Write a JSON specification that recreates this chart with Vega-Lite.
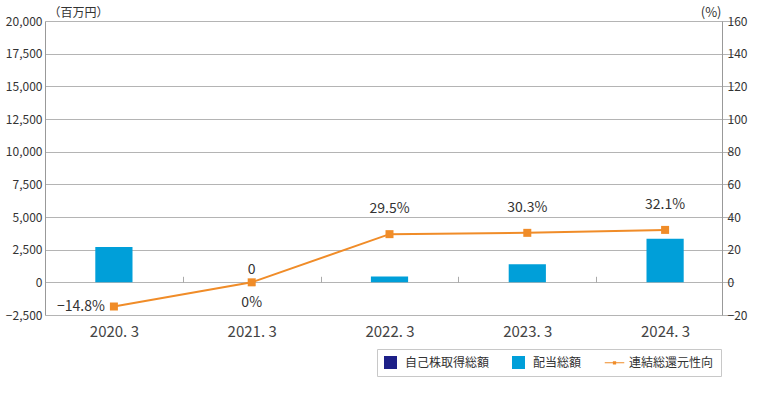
{
  "$schema": "https://vega.github.io/schema/vega-lite/v6.json",
  "width": 677,
  "height": 294,
  "autosize": {"type": "none"},
  "padding": {"left": 45, "top": 21, "right": 38, "bottom": 79},
  "config": {"view": {"stroke": null}, "font": "Noto Sans CJK JP"},
  "data": {
    "values": [
      {"year": "2020. 3", "series": "配当総額", "value": 2700},
      {"year": "2021. 3", "series": "配当総額", "value": 0},
      {"year": "2022. 3", "series": "配当総額", "value": 450},
      {"year": "2023. 3", "series": "配当総額", "value": 1380},
      {"year": "2024. 3", "series": "配当総額", "value": 3330},
      {"year": "2020. 3", "series": "連結総還元性向", "value": -14.8},
      {"year": "2021. 3", "series": "連結総還元性向", "value": 0},
      {"year": "2022. 3", "series": "連結総還元性向", "value": 29.5},
      {"year": "2023. 3", "series": "連結総還元性向", "value": 30.3},
      {"year": "2024. 3", "series": "連結総還元性向", "value": 32.1}
    ]
  },
  "encoding": {
    "x": {
      "field": "year",
      "type": "nominal",
      "sort": null,
      "scale": {"paddingInner": 0, "paddingOuter": 0, "range": [0, 689]},
      "axis": {
        "title": null,
        "labelAngle": 0,
        "offset": -32.7,
        "domain": false,
        "tickBand": "center",
        "tickOffset": -68.9,
        "labelOffset": 68.9,
        "tickSize": -6,
        "tickColor": "#aaaaaa",
        "labelPadding": 48,
        "labelFontSize": 15,
        "labelColor": "#444444",
        "labelFont": "Noto Sans CJK JP"
      }
    }
  },
  "layer": [
    {
      "transform": [{"filter": "datum.series === '配当総額'"}],
      "encoding": {
        "y": {
          "field": "value",
          "type": "quantitative",
          "scale": {"domain": [-2500, 20000], "nice": false, "zero": false},
          "axis": {
            "orient": "left",
            "values": [-2500, 0, 2500, 5000, 7500, 10000, 12500, 15000, 17500, 20000],
            "format": ",d",
            "grid": true,
            "gridColor": "#b4b4b4",
            "domain": true,
            "domainColor": "#999999",
            "ticks": false,
            "labelPadding": 3,
            "labelFontSize": 12,
            "labelColor": "#333333",
            "title": "（百万円）",
            "titleAngle": 0,
            "titleFontSize": 12,
            "titleFontWeight": "normal",
            "titleColor": "#333333",
            "titleAlign": "left",
            "titleBaseline": "middle",
            "titleX": 3,
            "titleY": -9
          }
        }
      },
      "layer": [
        {
          "mark": {"type": "bar", "width": {"band": 0.27}},
          "encoding": {
            "color": {
              "field": "series",
              "type": "nominal",
              "scale": {
                "domain": ["自己株取得総額", "配当総額", "連結総還元性向"],
                "range": ["#1d2088", "#009fd9", "#f08c28"]
              },
              "legend": {
                "orient": "none",
                "legendX": 332,
                "legendY": 328,
                "direction": "horizontal",
                "columns": 3,
                "title": null,
                "strokeColor": "#c8c8c8",
                "fillColor": "#ffffff",
                "padding": 7,
                "symbolSize": 169,
                "symbolType": "square",
                "symbolStrokeWidth": 0,
                "labelFontSize": 12,
                "labelColor": "#333333",
                "labelFont": "Noto Sans CJK JP",
                "columnPadding": 22,
                "labelOffset": 8,
                "encode": {
                  "symbols": {
                    "update": {
                      "shape": {"signal": "datum.value === '連結総還元性向' ? 'M-1.5,-0.08H1.5V0.08H-1.5Z M-0.25,-0.25H0.25V0.25H-0.25Z' : 'square'"},
                      "fill": {"scale": "color", "field": "value"},
                      "opacity": {"value": 1}
                    }
                  }
                }
              }
            }
          }
        },
        {
          "transform": [{"filter": "datum.value === 0"}],
          "mark": {"type": "text", "dy": -12, "fontSize": 14, "color": "#333333"},
          "encoding": {"text": {"field": "value", "type": "quantitative"}}
        }
      ]
    },
    {
      "transform": [{"filter": "datum.series === '連結総還元性向'"}],
      "encoding": {
        "y": {
          "field": "value",
          "type": "quantitative",
          "scale": {"domain": [-20, 160], "nice": false, "zero": false},
          "axis": {
            "orient": "right",
            "values": [-20, 0, 20, 40, 60, 80, 100, 120, 140, 160],
            "grid": false,
            "domain": true,
            "domainColor": "#999999",
            "ticks": false,
            "labelPadding": 5,
            "labelFontSize": 12,
            "labelColor": "#333333",
            "title": "(%)",
            "titleAngle": 0,
            "titleFontSize": 13,
            "titleFontWeight": "normal",
            "titleColor": "#333333",
            "titleAlign": "right",
            "titleBaseline": "middle",
            "titleX": -1,
            "titleY": -9
          }
        }
      },
      "layer": [
        {
          "mark": {"type": "line", "strokeWidth": 2},
          "encoding": {
            "color": {
              "field": "series",
              "type": "nominal",
              "scale": {"domain": ["自己株取得総額", "配当総額", "連結総還元性向"], "range": ["#1d2088", "#009fd9", "#f08c28"]},
              "legend": null
            }
          }
        },
        {
          "mark": {"type": "point", "shape": "square", "filled": true, "size": 64, "opacity": 1},
          "encoding": {
            "color": {
              "field": "series",
              "type": "nominal",
              "scale": {"domain": ["自己株取得総額", "配当総額", "連結総還元性向"], "range": ["#1d2088", "#009fd9", "#f08c28"]},
              "legend": null
            }
          }
        },
        {
          "transform": [{"filter": "datum.value > 10"}],
          "mark": {"type": "text", "dy": -25, "fontSize": 14, "color": "#333333", "text": {"expr": "format(datum.value, '.1~f') + '%'"}},
          "encoding": {}
        },
        {
          "transform": [{"filter": "datum.value < 0"}],
          "mark": {"type": "text", "dx": -9, "align": "right", "fontSize": 14, "color": "#333333", "text": {"expr": "format(datum.value, '.1~f') + '%'"}},
          "encoding": {}
        },
        {
          "transform": [{"filter": "datum.value === 0"}],
          "mark": {"type": "text", "dy": 21, "fontSize": 14, "color": "#333333", "text": {"expr": "format(datum.value, '.1~f') + '%'"}},
          "encoding": {}
        }
      ]
    }
  ],
  "resolve": {"scale": {"y": "independent"}}
}
